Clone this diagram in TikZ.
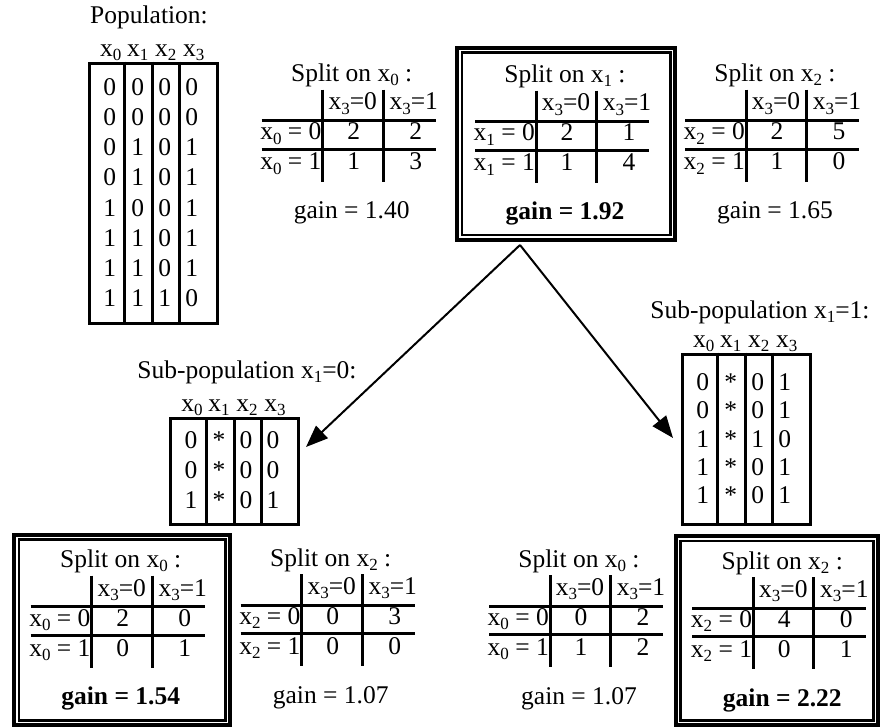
\documentclass[tikz,border=0pt]{standalone}
\usepackage{fontspec}
\setmainfont{Liberation Serif}
\usetikzlibrary{arrows.meta}

\newcommand{\xv}[1]{x\raisebox{-0.16em}{\fontsize{17}{17}\selectfont #1}}

% data table: name, left, top, height, first baseline, row pitch, rows
\newcommand{\poptable}[7]{%
  \node[frame, minimum width=128pt, minimum height={#4pt}, anchor=north west] (#1) at (#2,#3) {};
  \foreach \dx in {37,65,92} \draw[tline] ({#2+\dx},#3) -- ({#2+\dx},{#3+#4});
  \foreach \h/\hx in {0/23,1/50,2/78,3/106} \node[txt] (#1-x\h) at ({#2+\hx},{#3-5.5}) {\xv{\h}};
  \foreach \a/\b/\c/\d [count=\i] in {#7} {
    \node[txt] (#1-\i a) at ({#2+22},{#3+#5+(\i-1)*#6}) {\a};
    \node[txt] (#1-\i b) at ({#2+50},{#3+#5+(\i-1)*#6}) {\b};
    \node[txt] (#1-\i c) at ({#2+77},{#3+#5+(\i-1)*#6}) {\c};
    \node[txt] (#1-\i d) at ({#2+104},{#3+#5+(\i-1)*#6}) {\d};
  }
}

% split table: name, x of first rule, y of first rule, variable, counts, gain
\newcommand{\splittable}[9]{%
  \draw[tline] ({#2-61},#3) -- ({#2+113},#3);
  \draw[tline] ({#2-61},{#3+28.5}) -- ({#2+113},{#3+28.5});
  \draw[tline] (#2,{#3-31}) -- (#2,{#3+61});
  \draw[tline] ({#2+60.5},{#3-31}) -- ({#2+60.5},{#3+61});
  \node[txt] (#1-title) at ({#2+29},{#3-39}) {Split on \xv{#4} :};
  \node[txt] (#1-h0) at ({#2+30},{#3-10.7}) {\xv{3}=0};
  \node[txt] (#1-h1) at ({#2+91},{#3-10.7}) {\xv{3}=1};
  \node[txt, anchor=base east] (#1-r0) at ({#2-1},{#3+19.3}) {\xv{#4} = 0};
  \node[txt, anchor=base east] (#1-r1) at ({#2-1},{#3+49.3}) {\xv{#4} = 1};
  \node[txt] (#1-00) at ({#2+31},{#3+19.3}) {#5};
  \node[txt] (#1-01) at ({#2+93},{#3+19.3}) {#6};
  \node[txt] (#1-10) at ({#2+31},{#3+49.3}) {#7};
  \node[txt] (#1-11) at ({#2+93},{#3+49.3}) {#8};
  \node[txt] (#1-gain) at ({#2+29},{#3+98}) {#9};
}

% double frame round the best split: name, left, top, width, height
\newcommand{\bestbox}[5]{%
  \node[outerbox, minimum width={#4pt-4pt}, minimum height={#5pt-4pt}, anchor=north west] (#1) at ({#2+2},{#3+2}) {};
  \node[innerbox, minimum width={#4pt-13.5pt}, minimum height={#5pt-13.5pt}] (#1-in) at (#1.center) {};
}

\begin{document}
\begin{tikzpicture}[x=1pt, y=-1pt, font=\fontsize{25.5}{30}\selectfont,
  txt/.style={anchor=base, inner sep=0pt},
  tline/.style={line width=3pt},
  frame/.style={draw, line width=3pt, inner sep=0pt},
  outerbox/.style={draw, line width=4pt, inner sep=0pt},
  innerbox/.style={draw, line width=2.5pt, inner sep=0pt},
  arr/.style={line width=2pt, -{Triangle[length=22pt,width=17pt]}}]
\path[fill=white] (0,0) rectangle (880,726);

% whole population
\node[txt] (poptitle) at (149,24) {Population:};
\poptable{pop}{87.7}{61.7}{260}{34}{30.1}{0/0/0/0,0/0/0/0,0/1/0/1,0/1/0/1,1/0/0/1,1/1/0/1,1/1/0/1,1/1/1/0}

% first level splits
\splittable{sa}{322.7}{120.7}{0}{2}{2}{1}{3}{gain = 1.40}
\bestbox{best}{453}{44}{222}{196}
\splittable{sb}{536}{121.7}{1}{2}{1}{1}{4}{\textbf{gain = 1.92}}
\splittable{sc}{746}{120.7}{2}{2}{5}{1}{0}{gain = 1.65}

% sub-populations
\node[txt] (subLtitle) at (247,378) {Sub-population \xv{1}=0:};
\poptable{subL}{169}{417.3}{105.4}{31.4}{30}{0/*/0/0,0/*/0/0,1/*/0/1}
\node[txt] (subRtitle) at (760,318) {Sub-population \xv{1}=1:};
\poptable{subR}{680.7}{352.7}{170.3}{37.7}{28.3}{0/*/0/1,0/*/0/1,1/*/1/0,1/*/0/1,1/*/0/1}

\coordinate (fork) at (520,245);
\coordinate (tipL) at (306,447);
\coordinate (tipR) at (673,438);
\draw[arr] (fork) -- (tipL);
\draw[arr] (fork) -- (tipR);

% second level splits
\bestbox{bestL}{10}{530.7}{220}{194.3}
\splittable{la}{91.7}{606.7}{0}{2}{0}{0}{1}{\textbf{gain = 1.54}}
\splittable{lb}{301.7}{605}{2}{0}{3}{0}{0}{gain = 1.07}
\splittable{ra}{550}{606}{0}{0}{2}{1}{2}{gain = 1.07}
\bestbox{bestR}{671.7}{532.3}{206.3}{192.7}
\splittable{rb}{753.3}{608.3}{2}{4}{0}{0}{1}{\textbf{gain = 2.22}}
\end{tikzpicture}
\end{document}
